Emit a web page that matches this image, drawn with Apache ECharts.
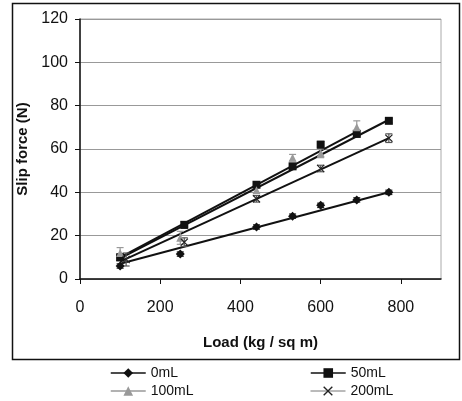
<!DOCTYPE html>
<html><head><meta charset="utf-8">
<script src="https://cdn.jsdelivr.net/npm/echarts@6/dist/echarts.min.js"></script>
<style>html,body{margin:0;padding:0;background:#fff}#c{width:462px;height:401px}</style>
</head><body><div id="c"></div>
<script>
// data
var seriesNames = ['0mL', '50mL', '100mL', '200mL'];
var x0 = [100, 250, 440, 530, 600, 690, 770];
var y0 = [6, 11.5, 24, 29, 34, 36.5, 40];
var e0 = [1, 1, 1, 1, 1, 1, 1];
var x50 = [100, 260, 440, 530, 600, 690, 770];
var y50 = [10, 25, 43.5, 52, 62, 67, 73];
var e50 = [1.5, 1.5, 1, 1, 1.5, 1.5, 1];
var x100 = [100, 250, 440, 530, 600, 690];
var y100 = [12, 19, 41, 56, 58, 70];
var e100 = [2.5, 3, 1.5, 1.5, 2, 3];
var x200 = [115, 260, 440, 600, 770];
var y200 = [9, 17, 37, 51, 65];
var e200 = [3, 2, 1.5, 1.5, 2];
var trend0 = [[100, 7], [770, 40]];
var trend50 = [[100, 9.5], [770, 73.5]];
var trend100 = [[100, 10], [690, 68]];
var trend200 = [[100, 8], [770, 65]];
var xTicks = [0, 200, 400, 600, 800];
var yTicks = [0, 20, 40, 60, 80, 100, 120];

function pts(xs, ys) { return xs.map(function (x, i) { return [x, ys[i]]; }); }
function errPts(xs, ys, es) { return xs.map(function (x, i) { return [x, ys[i] - es[i], ys[i] + es[i]]; }); }

var FONT = 'Liberation Sans, Arial, sans-serif';
var X_SYMBOL = 'path://M0,1L1,0L5,4L9,0L10,1L6,5L10,9L9,10L5,6L1,10L0,9L4,5Z';

function errSeries(data, color) {
  return {
    type: 'custom', data: data, z: 3, silent: true,
    encode: { x: 0, y: [1, 2] },
    renderItem: function (params, api) {
      var lo = api.coord([api.value(0), api.value(1)]);
      var hi = api.coord([api.value(0), api.value(2)]);
      var w = 3.5;
      var st = { stroke: color, lineWidth: 1.2 };
      return { type: 'group', children: [
        { type: 'line', shape: { x1: lo[0], y1: lo[1], x2: hi[0], y2: hi[1] }, style: st },
        { type: 'line', shape: { x1: lo[0] - w, y1: lo[1], x2: lo[0] + w, y2: lo[1] }, style: st },
        { type: 'line', shape: { x1: hi[0] - w, y1: hi[1], x2: hi[0] + w, y2: hi[1] }, style: st }
      ]};
    }
  };
}
function trendSeries(data) {
  return { type: 'line', data: data, symbol: 'none', silent: true, z: 2,
    lineStyle: { color: '#111', width: 2 } };
}
function pointSeries(name, data, symbol, size, color) {
  return { name: name, type: 'line', data: data, symbol: symbol, symbolSize: size, z: 4,
    itemStyle: { color: color }, lineStyle: { opacity: 0, color: color } };
}

var chart = echarts.init(document.getElementById('c'), null, { renderer: 'canvas' });
var legBase = { itemWidth: 35, itemHeight: 12, itemGap: 5, textStyle: { fontFamily: FONT, fontSize: 14, color: '#111' } };
function leg(name, left, top, color, width) {
  return Object.assign({}, legBase, { left: left, top: top,
    data: [{ name: name, lineStyle: { opacity: 1, color: color, width: width } }] });
}
chart.setOption({
  animation: false,
  textStyle: { fontFamily: FONT },
  graphic: [{ type: 'rect', shape: { x: 12.5, y: 3.5, width: 447, height: 356 },
    style: { fill: 'none', stroke: '#111', lineWidth: 1.5 }, silent: true }],
  grid: { left: 80, top: 19, right: 21, bottom: 122, show: true, borderColor: '#aaa', borderWidth: 1 },
  legend: [
    leg(seriesNames[0], 105, 361, '#111', 1.5),
    leg(seriesNames[1], 305, 361, '#111', 1.5),
    leg(seriesNames[2], 105, 379, '#999', 1.5),
    leg(seriesNames[3], 305, 379, '#777', 1)
  ],
  xAxis: {
    type: 'value', min: xTicks[0], max: 900, interval: 200,
    name: 'Load (kg / sq m)', nameLocation: 'middle', nameGap: 56,
    nameTextStyle: { fontFamily: FONT, fontSize: 15, fontWeight: 'bold', color: '#111' },
    axisLine: { show: true, lineStyle: { color: '#111', width: 1.5 } },
    axisTick: { show: true, inside: false, length: 5, lineStyle: { color: '#111' } },
    axisLabel: { fontFamily: FONT, fontSize: 16, color: '#111', margin: 21, showMaxLabel: false },
    splitLine: { show: false }
  },
  yAxis: {
    type: 'value', min: yTicks[0], max: yTicks[yTicks.length - 1], interval: 20,
    name: 'Slip force (N)', nameLocation: 'middle', nameGap: 47, nameRotate: 90,
    nameTextStyle: { fontFamily: FONT, fontSize: 15, fontWeight: 'bold', color: '#111' },
    axisLine: { show: true, lineStyle: { color: '#111', width: 1.5 } },
    axisTick: { show: true, inside: false, length: 5, lineStyle: { color: '#111' } },
    axisLabel: { fontFamily: FONT, fontSize: 16, color: '#111', margin: 12 },
    splitLine: { show: true, lineStyle: { color: '#999', width: 1 } }
  },
  series: [
    trendSeries(trend0), trendSeries(trend50), trendSeries(trend100), trendSeries(trend200),
    errSeries(errPts(x0, y0, e0), '#222'),
    errSeries(errPts(x50, y50, e50), '#222'),
    errSeries(errPts(x100, y100, e100), '#999'),
    errSeries(errPts(x200, y200, e200), '#555'),
    pointSeries(seriesNames[0], pts(x0, y0), 'diamond', 9, '#111'),
    pointSeries(seriesNames[1], pts(x50, y50), 'rect', 8, '#111'),
    pointSeries(seriesNames[2], pts(x100, y100), 'triangle', 8, '#999'),
    pointSeries(seriesNames[3], pts(x200, y200), X_SYMBOL, 8, '#222')
  ]
});
</script></body></html>
